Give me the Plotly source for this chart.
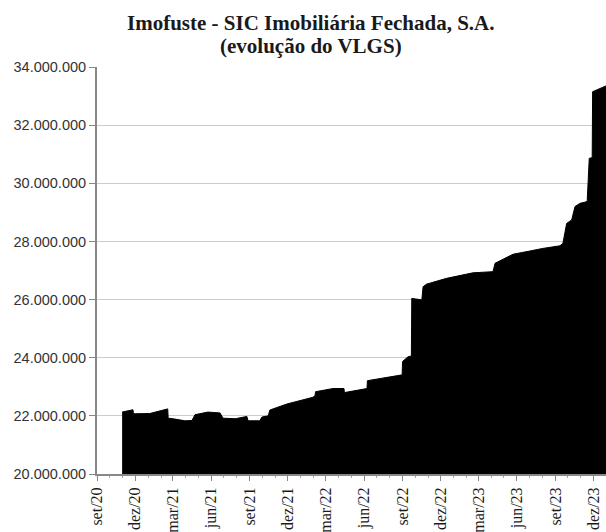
import plotly.graph_objects as go

dates = [
    "2020-10-31", "2020-11-26", "2020-11-27", "2020-12-20", "2021-01-05",
    "2021-02-17", "2021-02-18", "2021-03-06", "2021-03-30", "2021-04-16",
    "2021-04-23", "2021-05-24", "2021-06-22", "2021-06-29", "2021-07-28",
    "2021-08-25", "2021-08-28", "2021-09-25", "2021-09-30", "2021-10-15",
    "2021-10-19", "2021-11-29", "2022-01-30", "2022-02-04", "2022-02-05",
    "2022-03-19", "2022-04-14", "2022-04-15", "2022-06-08", "2022-06-09",
    "2022-08-31", "2022-09-01", "2022-09-14", "2022-09-22", "2022-09-23",
    "2022-10-17", "2022-10-20", "2022-10-28", "2022-12-15", "2023-02-16",
    "2023-04-05", "2023-04-10", "2023-05-23", "2023-07-02", "2023-08-02",
    "2023-09-12", "2023-09-19", "2023-09-28", "2023-10-10", "2023-10-18",
    "2023-10-30", "2023-11-16", "2023-11-21", "2023-11-28", "2023-11-29",
    "2023-12-31",
]
values = [
    22130000, 22210000, 22070000, 22090000, 22080000,
    22240000, 21920000, 21890000, 21830000, 21840000,
    22040000, 22130000, 22100000, 21920000, 21900000,
    21980000, 21830000, 21830000, 21960000, 22000000,
    22200000, 22410000, 22640000, 22700000, 22830000,
    22940000, 22940000, 22800000, 22940000, 23210000,
    23410000, 23870000, 24030000, 24060000, 26040000,
    25990000, 26440000, 26530000, 26730000, 26920000,
    26960000, 27250000, 27560000, 27670000, 27760000,
    27850000, 27930000, 28620000, 28740000, 29200000,
    29310000, 29370000, 30860000, 30880000, 33150000,
    33350000,
]

x_tickvals = ["2020-09-01", "2020-12-01", "2021-03-01", "2021-06-01", "2021-09-01",
              "2021-12-01", "2022-03-01", "2022-06-01", "2022-09-01", "2022-12-01",
              "2023-03-01", "2023-06-01", "2023-09-01", "2023-12-01"]
x_ticktext = ["set/20", "dez/20", "mar/21", "jun/21", "set/21", "dez/21", "mar/22",
              "jun/22", "set/22", "dez/22", "mar/23", "jun/23", "set/23", "dez/23"]
y_tickvals = [20000000, 22000000, 24000000, 26000000, 28000000, 30000000, 32000000, 34000000]
y_ticktext = ["20.000.000", "22.000.000", "24.000.000", "26.000.000", "28.000.000",
              "30.000.000", "32.000.000", "34.000.000"]
title_lines = ["Imofuste - SIC Imobiliária Fechada, S.A.", "(evolução do VLGS)"]

SERIF = "Liberation Serif, Times New Roman, DejaVu Serif, serif"

fig = go.Figure()
fig.add_trace(go.Scatter(
    x=dates, y=values, mode="lines", line=dict(color="black", width=1),
    fill="tozeroy", fillcolor="black", hoverinfo="skip", showlegend=False,
))

top, bottom = 67, 474
def ypaper(pix):
    return (bottom - pix) / (bottom - top)

for line, ypix in zip(title_lines, [23, 45.5]):
    fig.add_annotation(
        text="<b>" + line + "</b>", xref="paper", yref="paper",
        x=(311 - 97) / 509, y=ypaper(ypix), xanchor="center", yanchor="middle",
        showarrow=False,
        font=dict(family=SERIF, size=21, color="#1a1a1a"),
    )

fig.update_layout(
    width=606, height=532,
    margin=dict(l=97, r=0, t=top, b=532 - bottom),
    paper_bgcolor="white", plot_bgcolor="white",
    xaxis=dict(
        type="date", range=["2020-09-01", "2023-12-31"], automargin=False,
        tickmode="array", tickvals=x_tickvals, ticktext=x_ticktext,
        tickangle=-90, ticks="outside", ticklen=5, tickcolor="#888888",
        showline=True, linecolor="#888888", linewidth=2, showgrid=False,
        tickfont=dict(family=SERIF, size=16, color="#1a1a1a"),
        minor=dict(ticks="outside", ticklen=2, tickcolor="#aaaaaa", dtick="M1"),
        zeroline=False,
    ),
    yaxis=dict(
        range=[20000000, 34000000], automargin=False,
        tickmode="array", tickvals=y_tickvals, ticktext=y_ticktext,
        ticks="outside", ticklen=6, tickcolor="#888888",
        showline=True, linecolor="#888888", linewidth=2,
        showgrid=True, gridcolor="#cccccc", gridwidth=1,
        tickfont=dict(family="Liberation Sans, Arial, sans-serif", size=14.5, color="#333333"),
        zeroline=False,
    ),
)

fig.write_html("out.html")
